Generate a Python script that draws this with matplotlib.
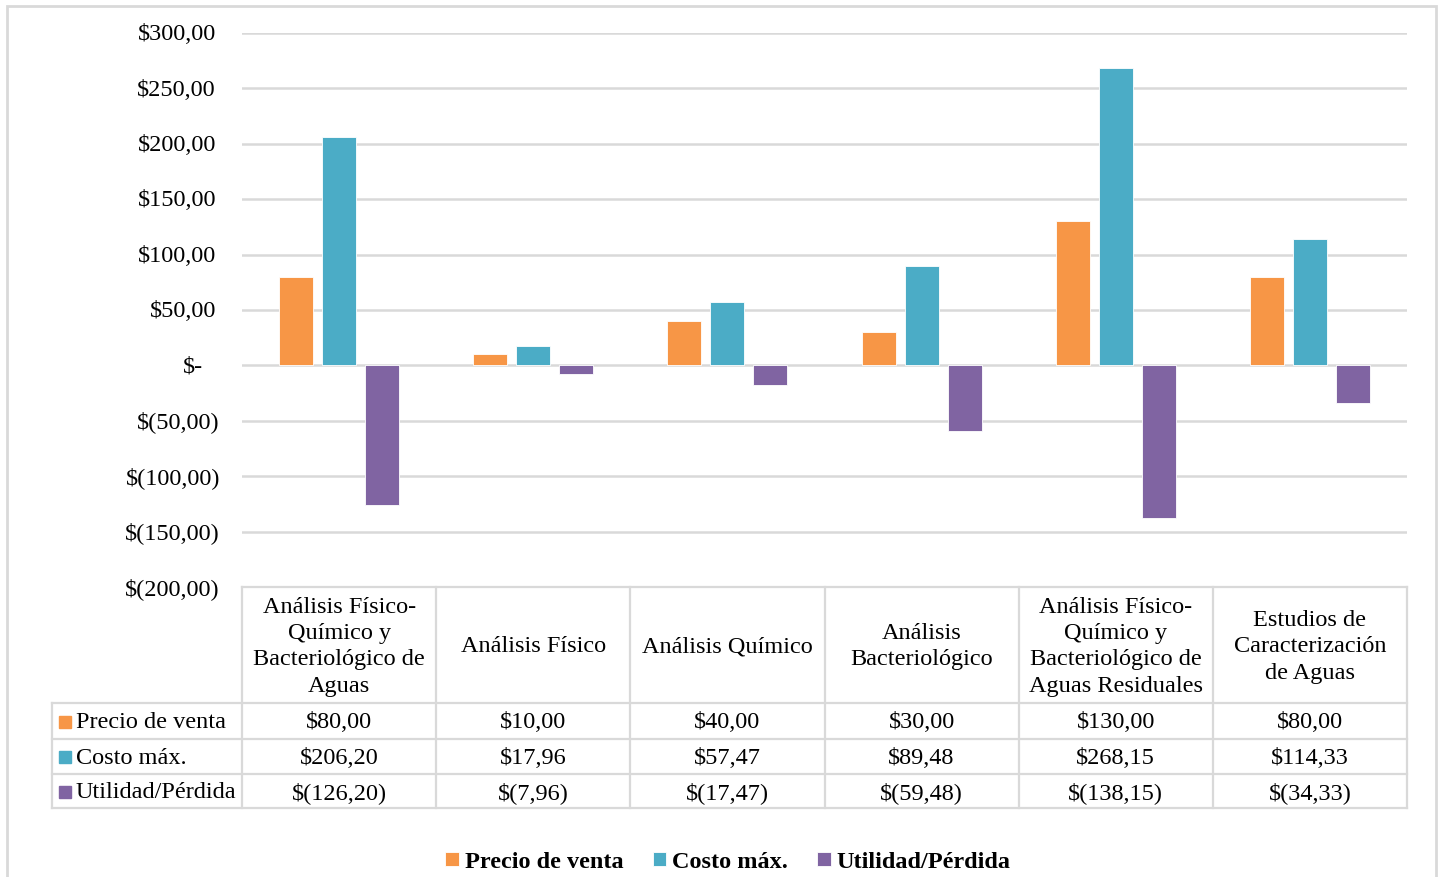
import matplotlib
matplotlib.use("Agg")
import matplotlib.pyplot as plt
from matplotlib.patches import Rectangle
from matplotlib.lines import Line2D
from matplotlib.transforms import blended_transform_factory
import numpy as np

plt.rcParams['font.family'] = ['Liberation Serif', 'DejaVu Serif']

categories = [
    "Análisis Físico-\nQuímico y\nBacteriológico de\nAguas",
    "Análisis Físico",
    "Análisis Químico",
    "Análisis\nBacteriológico",
    "Análisis Físico-\nQuímico y\nBacteriológico de\nAguas Residuales",
    "Estudios de\nCaracterización\nde Aguas",
]
series_names = ["Precio de venta", "Costo máx.", "Utilidad/Pérdida"]
precio_venta = [80.00, 10.00, 40.00, 30.00, 130.00, 80.00]
costo_max = [206.20, 17.96, 57.47, 89.48, 268.15, 114.33]
utilidad_perdida = [-126.20, -7.96, -17.47, -59.48, -138.15, -34.33]
y_ticks = [-200, -150, -100, -50, 0, 50, 100, 150, 200, 250, 300]

colors = ["#F79646", "#4BACC6", "#8064A2"]
grid_color = "#D9D9D9"
FS = 17.5

W, H = 1439, 878
fig = plt.figure(figsize=(W / 100, H / 100), dpi=100)


def fx(x):
    return x / W


def fy(y):
    return 1 - y / H


def money(v):
    if abs(v) < 1e-9:
        return "$-"
    s = f"{abs(v):,.2f}".replace(",", "X").replace(".", ",").replace("X", ".")
    return f"$({s})" if v < 0 else f"${s}"


# outer chart border
fig.add_artist(Rectangle((fx(7), fy(900)), fx(1436) - fx(7), fy(7) - fy(900),
                         transform=fig.transFigure, fill=False,
                         edgecolor=grid_color, linewidth=2, clip_on=False))

ax_l, ax_r, ax_t, ax_b = 242, 1407, 34, 588
ax = fig.add_axes([fx(ax_l), fy(ax_b), fx(ax_r) - fx(ax_l), fy(ax_t) - fy(ax_b)])
n = len(categories)
ax.set_xlim(0, n)
ax.set_ylim(-200, 300)
for s in ax.spines.values():
    s.set_visible(False)
ax.set_xticks([])
ax.set_yticks(y_ticks)
ax.tick_params(axis='y', length=0, labelleft=False)
ax.yaxis.grid(True, color=grid_color, linewidth=1.8)
ax.set_axisbelow(True)

# y tick labels in accounting style
ytrans = ax.get_yaxis_transform()
for t in y_ticks:
    if t > 0:
        xr = 216
    elif t < 0:
        xr = 220
    else:
        xr = 203
    ax.text((xr - ax_l) / (ax_r - ax_l), t - 0.6, money(t), transform=ytrans,
            ha='right', va='center', fontsize=FS, clip_on=False)

# bars
x = np.arange(n) + 0.5
bw = 34 / 194.17
step = 43 / 194.17
handles = []
for k, vals in enumerate([precio_venta, costo_max, utilidad_perdida]):
    b = ax.bar(x + (k - 1) * step, vals, width=bw, color=colors[k],
               edgecolor='white', linewidth=0.6, label=series_names[k], zorder=3)
    handles.append(b)

# data table below the plot
bt = blended_transform_factory(ax.transData, fig.transFigure)
row_y = [588, 703.5, 739.5, 775, 809]
lw = 1.6
# vertical column lines
for i in range(n + 1):
    fig.add_artist(Line2D([i, i], [fy(row_y[0]), fy(row_y[-1])], transform=bt,
                          color=grid_color, linewidth=lw, clip_on=False))
# left label column
fig.add_artist(Line2D([fx(51.5), fx(51.5)], [fy(row_y[1]), fy(row_y[-1])],
                      transform=fig.transFigure, color=grid_color, linewidth=lw))
# horizontal lines
fig.add_artist(Line2D([fx(ax_l), fx(ax_r)], [fy(row_y[0])] * 2,
                      transform=fig.transFigure, color=grid_color, linewidth=lw))
for yy in row_y[1:]:
    fig.add_artist(Line2D([fx(51.5), fx(ax_r)], [fy(yy)] * 2,
                          transform=fig.transFigure, color=grid_color, linewidth=lw))

# header cells
for i, c in enumerate(categories):
    t = fig.text(0, 0, c, ha='center', va='center', fontsize=FS, linespacing=1.33,
                 multialignment='center')
    t.set_transform(bt)
    t.set_position((i + 0.5, fy((row_y[0] + row_y[1]) / 2 + 1)))

# data rows
for r, vals in enumerate([precio_venta, costo_max, utilidad_perdida]):
    yc = fy((row_y[r + 1] + row_y[r + 2]) / 2 + 1)
    # legend key + series name
    fig.add_artist(Rectangle((fx(59), yc - 6 / H), 12 / W, 12 / H,
                             transform=fig.transFigure, color=colors[r]))
    fig.text(fx(75.5), yc, series_names[r], ha='left', va='center', fontsize=FS)
    for i, v in enumerate(vals):
        t = fig.text(0, 0, money(v), ha='center', va='center', fontsize=FS)
        t.set_transform(bt)
        t.set_position((i + 0.5, yc))

# legend at the bottom
fig.legend(handles=handles, labels=series_names, loc='center',
           bbox_to_anchor=(fx(728), fy(863)), ncol=3, frameon=False,
           handlelength=0.55, handleheight=0.55, handletextpad=0.25,
           columnspacing=1.2, prop={'weight': 'bold', 'size': FS})

fig.savefig("out.png", dpi=100)
